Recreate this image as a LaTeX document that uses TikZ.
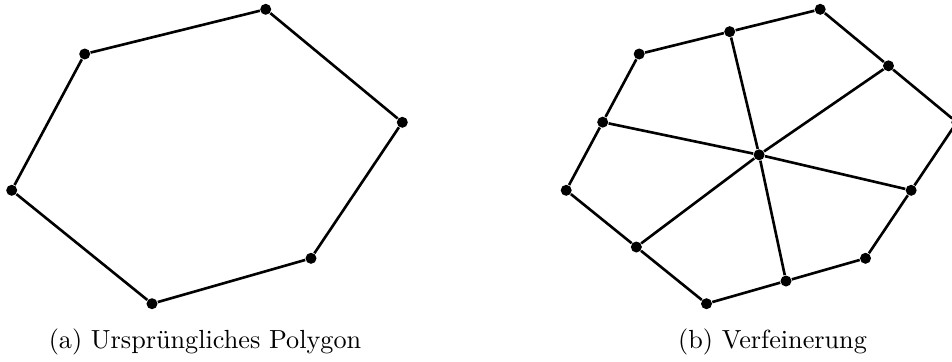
\documentclass[tikz,border=0pt]{standalone}
\usetikzlibrary{calc}
\begin{document}
\begin{tikzpicture}[x=0.3815pt,y=-0.3815pt,
  vdot/.style={circle,fill=black,inner sep=0pt,minimum size=4.2pt},
  polyline/.style={line width=1pt,black},
  captext/.style={anchor=base,inner sep=0pt,font=\fontsize{10}{12}\selectfont}]
\useasboundingbox (0,0) rectangle (952,361);
\clip (0,0) rectangle (952,361);
% left polygon
\node[vdot] (a1) at (265.7,9.3) {};
\node[vdot] (a2) at (402.3,122.3) {};
\node[vdot] (a3) at (311,258.3) {};
\node[vdot] (a4) at (152,303.7) {};
\node[vdot] (a5) at (11.7,190.3) {};
\node[vdot] (a6) at (84.7,54) {};
\draw[polyline] (a1) -- (a2) -- (a3) -- (a4) -- (a5) -- (a6) -- (a1);
% right polygon
\node[vdot] (b1) at (820.2,9.3) {};
\node[vdot] (b2) at (956.8,122.3) {};
\node[vdot] (b3) at (865.5,258.3) {};
\node[vdot] (b4) at (706.5,303.7) {};
\node[vdot] (b5) at (566.2,190.3) {};
\node[vdot] (b6) at (639.2,54) {};
\node[vdot] (m12) at (888.5,65.8) {};
\node[vdot] (m23) at (911.15,190.3) {};
\node[vdot] (m34) at (786,281) {};
\node[vdot] (m45) at (636.35,247) {};
\node[vdot] (m56) at (602.7,122.15) {};
\node[vdot] (m61) at (729.7,31.65) {};
\node[vdot] (c) at (759.1,154.8) {};
\draw[polyline] (b1) -- (m12) -- (b2) -- (m23) -- (b3) -- (m34) -- (b4) -- (m45) -- (b5) -- (m56) -- (b6) -- (m61) -- (b1);
\foreach \m in {m12,m23,m34,m45,m56,m61} \draw[polyline] (c) -- (\m);
% captions
\node[captext] (capa) at (205,348) {(a) Urspr\"ungliches Polygon};
\node[captext] (capb) at (772.5,348) {(b) Verfeinerung};
\end{tikzpicture}
\end{document}
